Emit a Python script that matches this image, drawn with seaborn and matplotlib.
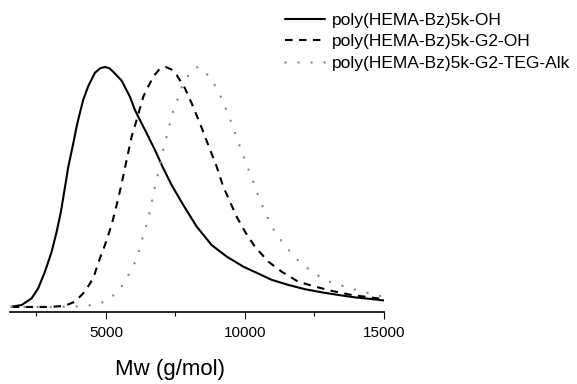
import matplotlib
matplotlib.use("Agg")
import matplotlib.pyplot as plt
from matplotlib.ticker import MultipleLocator
import seaborn as sns
import pandas as pd

sns.set_theme(style="white")
plt.rcParams['font.family'] = ['Liberation Sans', 'DejaVu Sans']
plt.rcParams['text.color'] = 'black'

labels = ["poly(HEMA-Bz)5k-OH", "poly(HEMA-Bz)5k-G2-OH", "poly(HEMA-Bz)5k-G2-TEG-Alk"]

mw_oh = [1608, 1968, 2327, 2565, 2806, 3047, 3227, 3381, 3500, 3644, 3824, 3946, 4029, 4183,
         4363, 4604, 4800, 4964, 5120, 5263, 5565, 5863, 6043, 6162, 6464, 6763, 7061, 7363,
         7780, 8263, 8802, 9342, 9939, 10540, 10960, 11557, 12158, 12759, 13356, 13957,
         14557, 15000]
y_oh = [0.001, 0.008, 0.036, 0.078, 0.147, 0.230, 0.313, 0.397, 0.480, 0.583, 0.681, 0.751, 0.793, 0.863,
        0.920, 0.976, 0.995, 1.0, 0.995, 0.980, 0.943, 0.876, 0.821, 0.793, 0.724, 0.654, 0.578, 0.508,
        0.425, 0.335, 0.258, 0.210, 0.168, 0.136, 0.113, 0.092, 0.074, 0.061, 0.050, 0.040,
        0.033, 0.027]

mw_g2 = [1608, 3000, 3525, 3885, 4245, 4543, 4784, 4964, 5205, 5385, 5540, 5745, 5924, 6104,
         6342, 6701, 6920, 7150, 7350, 7543, 7842, 8083, 8381, 8680, 8982, 9220, 9460, 9701,
         10000, 10359, 10838, 11320, 11917, 12518, 13118, 13838, 14557, 15000]
y_g2 = [0.0, 0.0, 0.005, 0.022, 0.064, 0.120, 0.203, 0.258, 0.342, 0.425, 0.501, 0.6125, 0.710, 0.779,
        0.876, 0.960, 0.990, 1.0, 0.990, 0.967, 0.911, 0.849, 0.765, 0.675, 0.585, 0.501, 0.439, 0.376,
        0.314, 0.251, 0.189, 0.147, 0.105, 0.085, 0.067, 0.050, 0.039, 0.033]

mw_teg = [1608, 3000, 4000, 4500, 4964, 5442, 5745, 5982, 6162, 6284, 6428, 6547, 6655, 6752,
          6860, 6968, 7061, 7183, 7302, 7421, 7601, 7744, 8047, 8300, 8500, 8860, 9101, 9306,
          9486, 9651, 9820, 10000, 10180, 10359, 10514, 10719, 10935, 11176, 11475, 11716,
          12040, 12364, 12698, 13058, 13479, 13896, 14317, 14737, 15000]
y_teg = [0.0, 0.0, 0.002, 0.008, 0.022, 0.064, 0.120, 0.168, 0.224, 0.276, 0.330, 0.383, 0.439, 0.495,
         0.547, 0.603, 0.654, 0.710, 0.765, 0.818, 0.872, 0.925, 0.980, 1.0, 0.990, 0.936, 0.883, 0.828,
         0.775, 0.721, 0.668, 0.6125, 0.557, 0.504, 0.45, 0.397, 0.342, 0.293, 0.255, 0.2125,
         0.182, 0.151, 0.126, 0.105, 0.089, 0.074, 0.061, 0.05, 0.042]

W, H = 577, 384
fig = plt.figure(figsize=(W / 100, H / 100), dpi=100)
ax = fig.add_axes([10 / W, (H - 312) / H, 374 / W, 269 / H])

series = [
    (mw_oh, y_oh, labels[0], dict(color="black", lw=1.5, linestyle="-")),
    (mw_g2, y_g2, labels[1], dict(color="black", lw=1.5, dashes=(3.6, 3.1))),
    (mw_teg, y_teg, labels[2], dict(color="#8c8c8c", lw=1.8, dashes=(0.01, 5.2),
                                    dash_capstyle="round")),
]
for xs, ys, lab, kw in series:
    df = pd.DataFrame({"Mw": xs, "I": ys})
    sns.lineplot(data=df, x="Mw", y="I", ax=ax, label=lab, **kw)

ax.set_xlim(1550, 15000)
ax.set_ylim(-0.021, 1.1)
ax.set_yticks([])
ax.set_ylabel("")
for s in ["left", "top", "right"]:
    ax.spines[s].set_visible(False)
ax.spines["bottom"].set_color("black")
ax.spines["bottom"].set_linewidth(1.2)
ax.xaxis.set_major_locator(MultipleLocator(5000))
ax.xaxis.set_minor_locator(MultipleLocator(2500))
ax.tick_params(axis="x", which="major", direction="out", length=5, width=0.8,
               color="black", labelsize=11, labelcolor="black", pad=5, bottom=True)
ax.tick_params(axis="x", which="minor", direction="out", length=3, width=0.8,
               color="black", bottom=True)
ax.set_xticks([5000, 10000, 15000])
ax.set_xticklabels(["5000", "10000", "15000"])

ax.set_xlabel("Mw (g/mol)", fontsize=16, color="black", va="center")
ax.xaxis.set_label_coords((170 - 10) / 374, (312 - 370) / 269)

leg = ax.legend(loc="upper left", bbox_to_anchor=(285 / W, 1 - 13 / H),
                bbox_transform=fig.transFigure, frameon=False, fontsize=12.5,
                handlelength=2.3, handletextpad=0.4, labelspacing=0.35,
                borderpad=0, borderaxespad=0, labelcolor="black")

fig.savefig("out.png", dpi=100)
